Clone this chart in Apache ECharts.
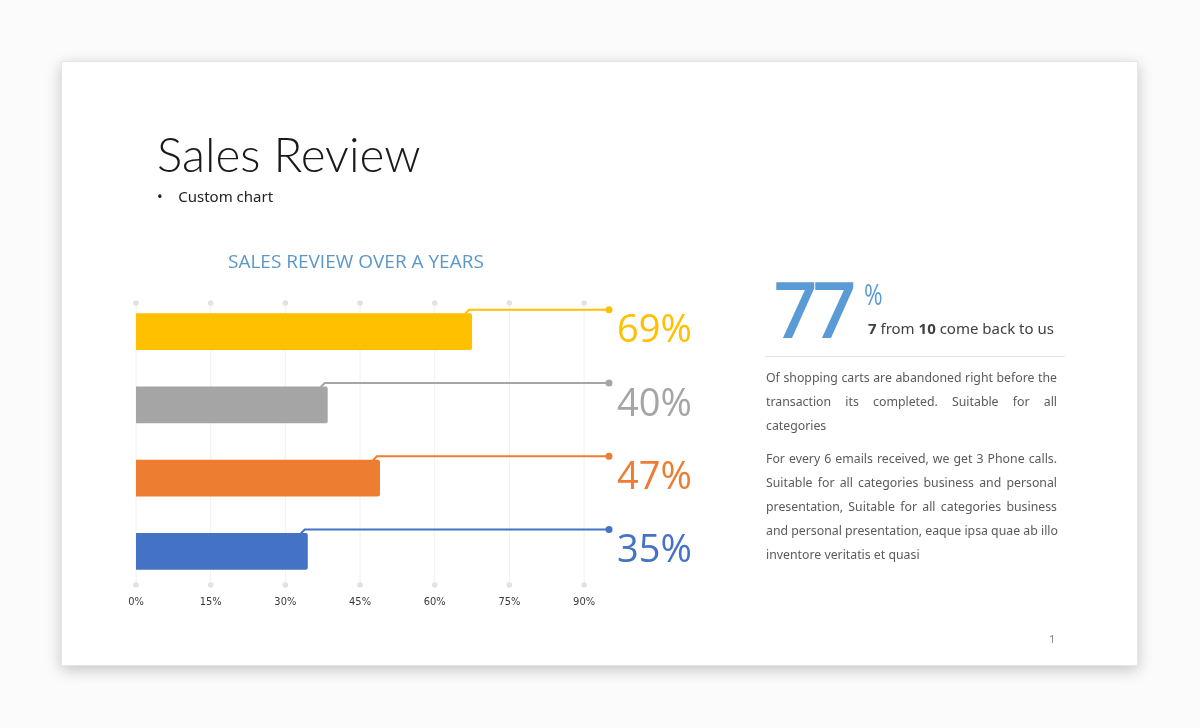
<!DOCTYPE html>
<html>
<head>
<meta charset="utf-8">
<script src="https://cdn.jsdelivr.net/npm/echarts@6/dist/echarts.min.js"></script>
<style>
  html, body { margin: 0; padding: 0; width: 1200px; height: 728px; background: #fbfbfb; overflow: hidden; font-family: "Noto Sans", "Open Sans", sans-serif; }
  #card { position: absolute; left: 61px; top: 61px; width: 1077px; height: 605px; background: #fff; box-shadow: 0 4px 14px rgba(0,0,0,0.22); border: 1px solid #e6e6e6; box-sizing: border-box; }
  #chart { position: absolute; left: 0; top: 0; width: 1200px; height: 728px; z-index: 1; }
  .t { position: absolute; z-index: 2; white-space: nowrap; }
  .para { position: absolute; z-index: 2; left: 766px; width: 291px; font-size: 12.3px; color: #5a5a5a; line-height: 24px; }
  .para div { text-align: justify; text-align-last: justify; white-space: nowrap; }
  .para div.last { text-align-last: left; }
</style>
</head>
<body>
<div id="card"></div>
<div id="chart"></div>

<div class="t" style="left:157px; top:125px; font-family: Lato, 'Open Sans', sans-serif; font-weight:300; font-size:47.5px; color:#1a1a1a;">Sales Review</div>
<div class="t" style="left:157px; top:186px; font-size:15px; color:#222;">•&nbsp;&nbsp;&nbsp;&nbsp;Custom chart</div>
<div class="t" style="left:228px; top:248px; font-family: 'Open Sans', 'Noto Sans', sans-serif; font-size:19px; color:#5b97c9;">SALES REVIEW OVER A YEARS</div>

<div class="t" style="left:774px; top:263px; font-family: 'Open Sans', sans-serif; font-weight:400; font-size:75px; line-height:90px; letter-spacing:-4px; color:#5b9bd5; -webkit-text-stroke: 2.2px #5b9bd5;">77</div>
<div class="t" style="left:864px; top:273px; font-family: 'Liberation Sans Narrow', 'Open Sans', sans-serif; font-size:30px; transform: scaleX(0.75); transform-origin: left; color:#5b9bd5;">%</div>
<div class="t" style="left:868px; top:318px; font-size:15px; color:#404040;"><b>7</b> from <b>10</b> come back to us</div>
<div class="t" style="left:765px; top:356px; width:300px; height:1px; background:#e3e3e3;"></div>

<div class="para" style="top:366px;">
  <div>Of shopping carts are abandoned right before the</div>
  <div>transaction its completed. Suitable for all</div>
  <div class="last">categories</div>
</div>
<div class="para" style="top:447px;">
  <div>For every 6 emails received, we get 3 Phone calls.</div>
  <div>Suitable for all categories business and personal</div>
  <div>presentation, Suitable for all categories business</div>
  <div>and personal presentation, eaque ipsa quae ab illo</div>
  <div class="last">inventore veritatis et quasi</div>
</div>
<div class="t" style="left:1049px; top:631px; font-size:11px; color:#888;">1</div>

<script>
// ---- data ----
const categories = ['Series A', 'Series B', 'Series C', 'Series D'];
const barValues = [67.5, 38.5, 49, 34.5];
const labelTexts = ['69%', '40%', '47%', '35%'];
const barColors = ['#ffc000', '#a5a5a5', '#ed7d31', '#4472c4'];
const tickValues = [0, 15, 30, 45, 60, 75, 90];
const lineEnd = 95;

const chart = echarts.init(document.getElementById('chart'), null, { renderer: 'canvas' });

const barData = barValues.map((v, i) => [v, i, labelTexts[i]]);
const gridData = tickValues.map(v => [v]);

const option = {
  animation: false,
  grid: { left: 136, top: 295, width: 473, height: 293, containLabel: false },
  xAxis: {
    type: 'value', min: 0, max: lineEnd, interval: 15,
    axisLine: { show: false }, axisTick: { show: false }, splitLine: { show: false },
    axisLabel: { showMaxLabel: false, formatter: v => v + '%', color: '#3a3a3a', fontSize: 11, margin: 9,
                 fontFamily: 'DejaVu Sans Condensed, sans-serif' }
  },
  yAxis: {
    type: 'category', data: categories, inverse: true, show: false
  },
  series: [
    {
      type: 'custom',
      data: gridData,
      z: 1,
      renderItem: function (params, api) {
        const cs = params.coordSys;
        const x = api.coord([api.value(0), 0])[0];
        const y0 = cs.y + 8, y1 = cs.y + cs.height - 3;
        return {
          type: 'group',
          children: [
            { type: 'line', shape: { x1: x, y1: y0, x2: x, y2: y1 }, style: { stroke: '#f0f0f0', lineWidth: 1 } },
            { type: 'circle', shape: { cx: x, cy: y0, r: 2.8 }, style: { fill: '#e2e2e2' } },
            { type: 'circle', shape: { cx: x, cy: y1, r: 2.8 }, style: { fill: '#e2e2e2' } }
          ]
        };
      }
    },
    {
      type: 'custom',
      data: barData,
      z: 3,
      renderItem: function (params, api) {
        const i = params.dataIndex;
        const color = barColors[i];
        const start = api.coord([0, api.value(1)]);
        const end = api.coord([api.value(0), api.value(1)]);
        const dot = api.coord([lineEnd, api.value(1)]);
        const band = api.size([0, 1])[1];
        const h = band * 0.5;
        const top = end[1] - h / 2;
        const lineY = top - 3.5;
        return {
          type: 'group',
          children: [
            { type: 'rect', shape: { x: start[0], y: top, width: end[0] - start[0], height: h, r: [0, 2, 2, 0] }, style: { fill: color } },
            { type: 'polyline', shape: { points: [[end[0] - 7, top + 0.5], [end[0] - 3, lineY], [dot[0], lineY]] }, style: { stroke: color, lineWidth: 2, fill: null } },
            { type: 'circle', shape: { cx: dot[0], cy: lineY, r: 3.5 }, style: { fill: color } },
            { type: 'text', style: { x: dot[0] + 8, y: end[1], text: api.value(2), fill: color, fontSize: 38,
                fontFamily: 'Open Sans, Noto Sans, sans-serif', verticalAlign: 'middle', align: 'left' } }
          ]
        };
      }
    }
  ]
};
chart.setOption(option);
</script>
</body>
</html>
